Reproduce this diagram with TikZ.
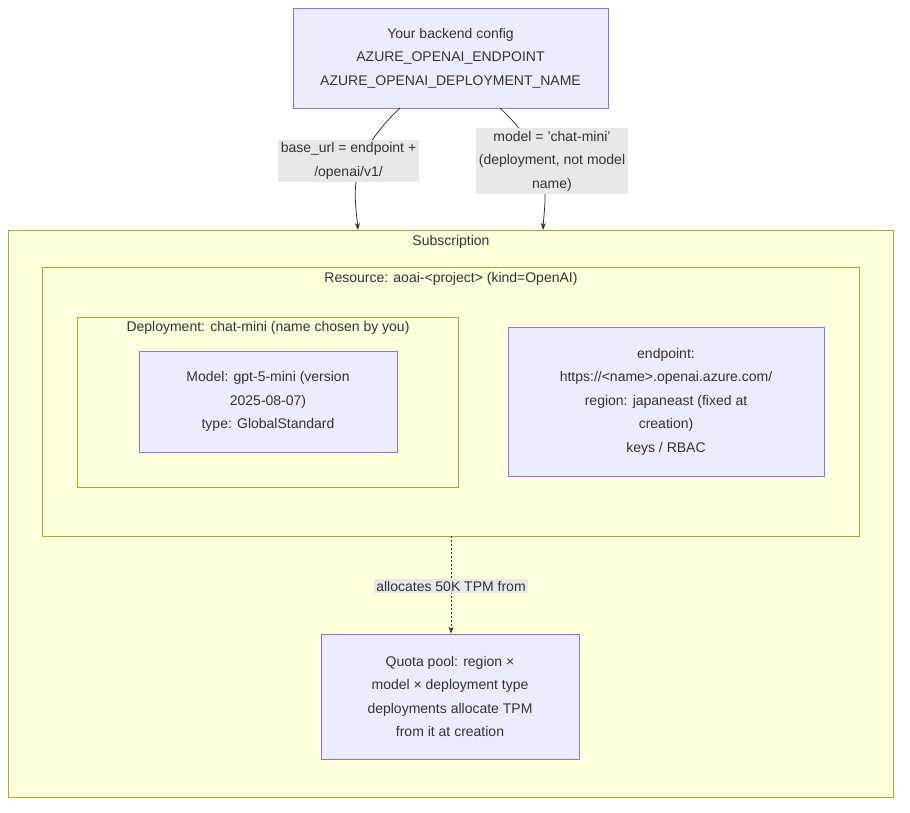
\documentclass[tikz,border=0pt]{standalone}
\usepackage{fontspec}
\setmainfont{Liberation Sans}
\usetikzlibrary{arrows.meta}
\definecolor{nfill}{HTML}{ECECFF}
\definecolor{nstroke}{HTML}{9370DB}
\definecolor{cfill}{HTML}{FFFFDE}
\definecolor{cstroke}{HTML}{AAAA33}
\definecolor{lbg}{HTML}{E8E8E8}
\definecolor{ink}{HTML}{333333}
\begin{document}
\begin{tikzpicture}[x=1pt,y=-1pt,font=\fontsize{14}{23.5}\selectfont,text=ink,
  nbox/.style={draw=nstroke,fill=nfill,line width=0.8pt},
  cbox/.style={draw=cstroke,fill=cfill,line width=0.8pt},
  lbl/.style={fill=lbg,align=center,inner sep=3pt},
  conn/.style={draw=ink,line width=0.8pt,-{Stealth[length=7pt,width=5pt]}}]
\useasboundingbox (0,0) rectangle (910,812);
\draw[cbox] (8,230) rectangle (893,797);
\node (sub) at (451,242) {Subscription};
\draw[cbox] (42,267) rectangle (859,536);
\node (res) at (451,279) {Resource: aoai-<project> (kind=OpenAI)};
\draw[cbox] (77,317) rectangle (458,487);
\node (dep) at (268,328) {Deployment: chat-mini (name chosen by you)};
\node[nbox,minimum width=258,minimum height=101,align=center] (model) at (268,401.5)
  {Model: gpt-5-mini (version\\2025-08-07)\\type: GlobalStandard};
\node[nbox,minimum width=316,minimum height=149,align=center] (ep) at (666,401.5)
  {endpoint:\\https://<name>.openai.azure.com/\\region: japaneast (fixed at\\creation)\\keys / RBAC};
\node[nbox,minimum width=258,minimum height=125,align=center] (quota) at (450,696.5)
  {Quota pool: region ×\\model × deployment type\\deployments allocate TPM\\from it at creation};
\node[nbox,minimum width=315,minimum height=100,align=center] (cfg) at (450.5,58)
  {Your backend config\\AZURE\_OPENAI\_ENDPOINT\\AZURE\_OPENAI\_DEPLOYMENT\_NAME};
\coordinate (s1) at (358,230);
\coordinate (s2) at (543,230);
\coordinate (rb) at (451,536);
\draw[conn] (400,108) .. controls (345,160) and (355,195) .. (s1);
\draw[conn] (500,108) .. controls (555,160) and (545,195) .. (s2);
\draw[conn,dashed,dash pattern=on 2pt off 2pt] (rb) -- (quota.north -| rb);
\node[lbl] (l1) at (348.5,161) {base\_url = endpoint +\\/openai/v1/};
\node[lbl] (l2) at (552,161) {model = 'chat-mini'\\(deployment, not model\\name)};
\node[lbl,inner sep=2pt] (l3) at (451,586) {allocates 50K TPM from};
\end{tikzpicture}
\end{document}
